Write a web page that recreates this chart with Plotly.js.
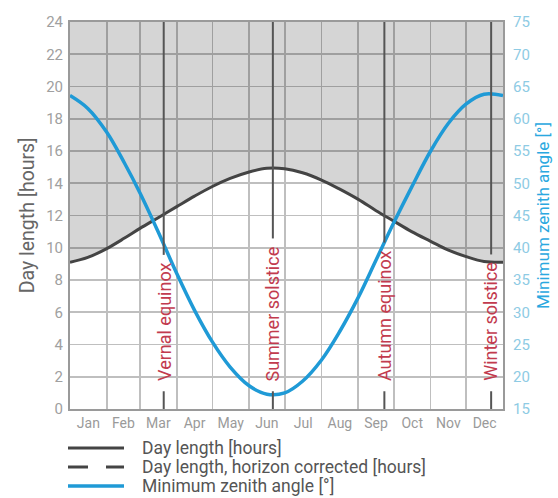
<!DOCTYPE html>
<html>
<head>
<meta charset="utf-8">
<script src="https://cdn.plot.ly/plotly-3.0.1.min.js"></script>
<style>
  html, body { margin: 0; padding: 0; background: #ffffff; }
  #chart { width: 558px; height: 498px; }
</style>
</head>
<body>
<div id="chart"></div>
<script>
// ---------------- data ----------------
const dates = [
  '2021-01-01', '2021-01-16', '2021-02-01', '2021-02-16', '2021-03-01', '2021-03-16',
  '2021-04-01', '2021-04-16', '2021-05-01', '2021-05-16', '2021-06-01', '2021-06-16',
  '2021-07-01', '2021-07-16', '2021-08-01', '2021-08-16', '2021-09-01', '2021-09-16',
  '2021-10-01', '2021-10-16', '2021-11-01', '2021-11-16', '2021-12-01', '2021-12-16',
  '2022-01-01'
];
const dayLength = [
  9.1, 9.4, 9.95, 10.6, 11.2, 11.85,
  12.55, 13.2, 13.8, 14.3, 14.7, 14.93,
  14.9, 14.65, 14.2, 13.65, 13.0, 12.3,
  11.65, 11.0, 10.4, 9.85, 9.45, 9.15,
  9.1
];
const zenithAngle = [
  63.6, 61.6, 57.9, 53.1, 48.5, 42.6,
  36.0, 30.3, 25.4, 21.5, 18.6, 17.3,
  17.5, 19.3, 22.6, 26.9, 32.3, 38.1,
  43.9, 49.4, 55.0, 59.3, 62.3, 63.8,
  63.6
];
const monthLabels = ['Jan','Feb','Mar','Apr','May','Jun','Jul','Aug','Sep','Oct','Nov','Dec'];
const eventDates  = ['2021-03-21', '2021-06-21', '2021-09-23', '2021-12-22'];
const eventLabels = ['Vernal equinox', 'Summer solstice', 'Autumn equinox', 'Winter solstice'];
const legendNames = ['Day length [hours]', 'Day length, horizon corrected [hours]', 'Minimum zenith angle [°]'];

// ---------------- style ----------------
const FONT = 'Roboto, "Noto Sans", Arial, sans-serif';
const DARK = '#444444';
const BLUE = '#1f9ad6';
const RED = '#c23b4e';
const GRID = '#bfbfbf';
const Y_MAX = 24;
const PLOT_H = 387;
const PX_PER_H = PLOT_H / Y_MAX;
const LABEL_FONT = 18;
const LABEL_BASE = 1.6;   // hours where event label text starts
const TICK_TOP = 1.1;     // hours: short bottom tick
const GAP_PX = 6;

// month start / mid points
const monthStarts = [];
const monthMids = [];
for (let m = 0; m < 12; m++) {
  const a = Date.UTC(2021, m, 1), b = Date.UTC(2021, m + 1, 1);
  monthStarts.push(new Date(a).toISOString().slice(0, 10));
  monthMids.push(new Date((a + b) / 2).toISOString().slice(0, 19).replace('T', ' '));
}

// measure label text to break the event lines around labels
const cv = document.createElement('canvas').getContext('2d');
cv.font = LABEL_FONT + 'px Roboto';

const shapes = [];
const annotations = [];
eventDates.forEach((d, i) => {
  const w = cv.measureText(eventLabels[i]).width;
  const textTop = LABEL_BASE + (w + 4 + GAP_PX) / PX_PER_H;
  shapes.push({type: 'line', xref: 'x', yref: 'y', x0: d, x1: d, y0: textTop, y1: Y_MAX,
               line: {color: '#555555', width: 2}, layer: 'above'});
  shapes.push({type: 'line', xref: 'x', yref: 'y', x0: d, x1: d, y0: 0, y1: TICK_TOP,
               line: {color: '#555555', width: 2}, layer: 'above'});
  annotations.push({x: d, y: LABEL_BASE, xref: 'x', yref: 'y', text: eventLabels[i],
                    textangle: -90, showarrow: false, xanchor: 'center', yanchor: 'bottom',
                    font: {family: FONT, size: LABEL_FONT, color: RED}});
});

// custom legend below the plot (paper coords)
const PLOT_W = 433;
const legendRowsPx = [39, 58, 77];   // px below plot bottom
const legendStyles = [
  {color: DARK, dash: 'solid', width: 3},
  {color: DARK, dash: '20px,18px', width: 3},
  {color: BLUE, dash: 'solid', width: 3.5}
];
legendRowsPx.forEach((dy, i) => {
  const yy = -dy / PLOT_H;
  shapes.push({type: 'line', xref: 'paper', yref: 'paper', x0: -2 / PLOT_W, x1: 54 / PLOT_W,
               y0: yy, y1: yy, line: legendStyles[i]});
  annotations.push({xref: 'paper', yref: 'paper', x: 70 / PLOT_W, y: yy, xanchor: 'left',
                    yanchor: 'middle', showarrow: false, text: legendNames[i],
                    font: {family: FONT, size: 17.5, color: '#555555'}});
});

const topLine = dayLength.map(() => Y_MAX);

const traces = [
  {x: dates, y: topLine, type: 'scatter', mode: 'lines', line: {width: 0},
   hoverinfo: 'skip', showlegend: false},
  {x: dates, y: dayLength, type: 'scatter', mode: 'lines', name: legendNames[0],
   line: {color: DARK, width: 3, shape: 'spline', smoothing: 1},
   fill: 'tonexty', fillcolor: 'rgba(0,0,0,0.165)', showlegend: false},
  {x: dates, y: zenithAngle, type: 'scatter', mode: 'lines', name: legendNames[2], yaxis: 'y2',
   line: {color: BLUE, width: 3.5, shape: 'spline', smoothing: 1}, showlegend: false}
];

const layout = {
  width: 558, height: 498,
  margin: {l: 70, r: 55, t: 22, b: 89},
  paper_bgcolor: '#ffffff', plot_bgcolor: '#ffffff',
  font: {family: FONT},
  showlegend: false,
  xaxis: {
    type: 'date', range: ['2021-01-01', '2022-01-01'],
    tickmode: 'array', tickvals: monthMids, ticktext: monthLabels,
    showgrid: false, ticks: '',
    minor: {tickmode: 'array', tickvals: monthStarts, showgrid: true, gridcolor: GRID, gridwidth: 1.6, ticks: ''},
    tickfont: {size: 14, color: '#9a9a9a'},
    showline: true, linecolor: '#9a9a9a', linewidth: 2, mirror: true,
    zeroline: false, fixedrange: true
  },
  yaxis: {
    range: [0, 24], dtick: 2, tick0: 0,
    showgrid: true, gridcolor: GRID, gridwidth: 1.6, zeroline: false,
    tickfont: {size: 15, color: '#a0a0a0'}, ticks: '', ticklabelstandoff: 2,
    showline: true, linecolor: '#9a9a9a', linewidth: 2, mirror: true,
    title: {text: 'Day length [hours]', font: {size: 19.5, color: '#666666'}, standoff: 6}
  },
  yaxis2: {
    overlaying: 'y', side: 'right', range: [15, 75], dtick: 5, tick0: 15,
    showgrid: false, zeroline: false, showline: false, ticks: '',
    tickfont: {size: 15, color: '#8ecbe4'}, ticklabelstandoff: 9,
    title: {text: 'Minimum zenith angle [°]', font: {size: 17, color: '#2aa8e0'}, standoff: 8}
  },
  shapes: shapes,
  annotations: annotations
};

Plotly.newPlot('chart', traces, layout, {staticPlot: true, displayModeBar: false});
</script>
</body>
</html>
